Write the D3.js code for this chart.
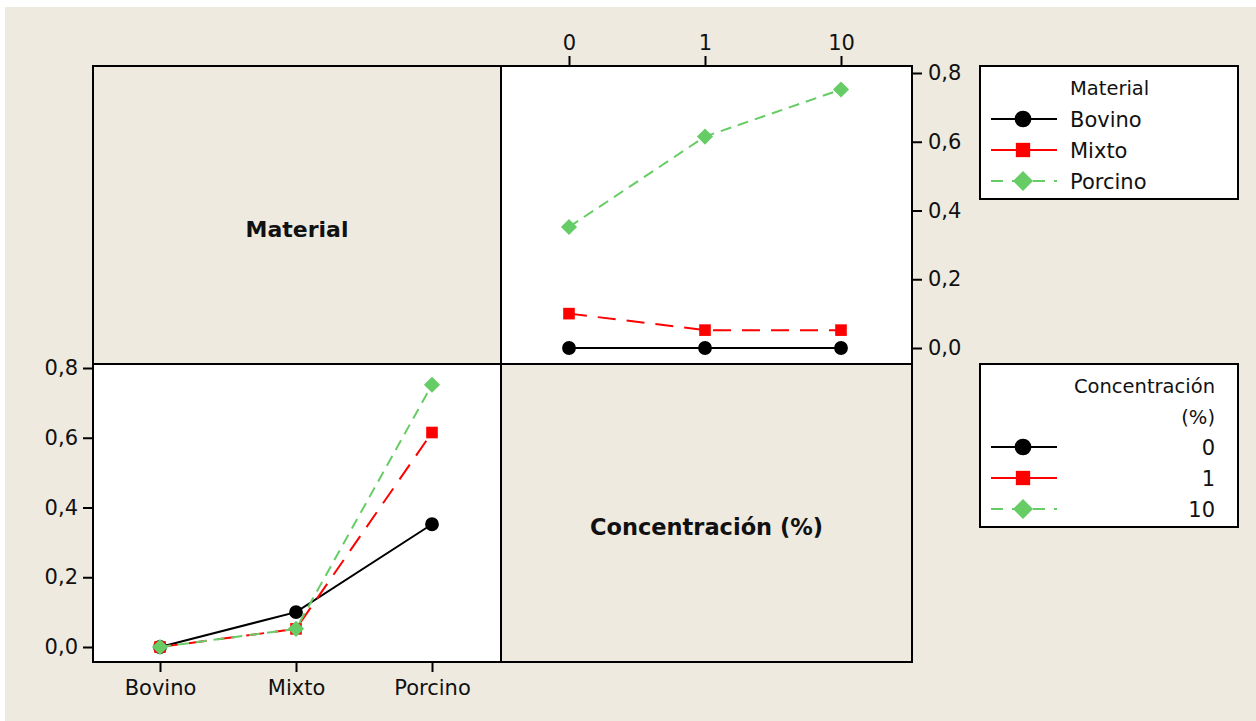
<!DOCTYPE html>
<html>
<head>
<meta charset="utf-8">
<script src="https://cdn.jsdelivr.net/npm/d3@7"></script>
<style>
  body { margin: 0; background: #fff; }
  text { font-family: "DejaVu Sans", sans-serif; fill: #111; }
</style>
</head>
<body>
<svg id="chart" width="1256" height="721"></svg>
<script>
// data
var materials = ["Bovino", "Mixto", "Porcino"];
var concentrations = ["0", "1", "10"];
// mean response, rows = material, cols = concentration
var bovinoVals = [0.0, 0.0, 0.0];
var mixtoVals = [0.10, 0.052, 0.052];
var porcinoVals = [0.352, 0.615, 0.752];
var yTicks = [0, 0.2, 0.4, 0.6, 0.8];

var table = [bovinoVals, mixtoVals, porcinoVals];

var styles = [
  { color: "#000000", dash: null, legDash: null, shape: d3.symbolCircle, size: 150, rot: 0 },
  { color: "#ff0000", dash: "18,11", legDash: null, shape: d3.symbolSquare, size: 135, rot: 0 },
  { color: "#66cc66", dash: "11,7", legDash: "12,9", shape: d3.symbolSquare, size: 130, rot: 45 }
];

var svg = d3.select("#chart");
var bg = "#eeeae0";
svg.append("rect").attr("x", 5).attr("y", 7).attr("width", 1251).attr("height", 714).attr("fill", bg);

var L = 93, M = 501, R = 912, T = 66, MY = 364, B = 662;

// cells
svg.append("rect").attr("x", M).attr("y", T).attr("width", R - M).attr("height", MY - T).attr("fill", "#fff");
svg.append("rect").attr("x", L).attr("y", MY).attr("width", M - L).attr("height", B - MY).attr("fill", "#fff");

var fmt = function(d) { return d3.format(".1f")(d).replace(".", ","); };

// top-right: x = concentration, series = material
var x1 = d3.scalePoint().domain(concentrations).range([569, 841]);
var y1 = d3.scaleLinear().domain([0, 0.8]).range([348, 73]);

var topAx = svg.append("g").attr("transform", "translate(0," + T + ")")
  .call(d3.axisTop(x1).tickSize(10).tickPadding(6));
var rightAx = svg.append("g").attr("transform", "translate(" + R + ",0)")
  .call(d3.axisRight(y1).tickValues(yTicks).tickFormat(fmt).tickSize(10).tickPadding(6));

// bottom-left: x = material, series = concentration
var x2 = d3.scalePoint().domain(materials).range([160, 432]);
var y2 = d3.scaleLinear().domain([0, 0.8]).range([647, 368]);

var botAx = svg.append("g").attr("transform", "translate(0," + B + ")")
  .call(d3.axisBottom(x2).tickSize(10).tickPadding(8));
var leftAx = svg.append("g").attr("transform", "translate(" + L + ",0)")
  .call(d3.axisLeft(y2).tickValues(yTicks).tickFormat(fmt).tickSize(10).tickPadding(5));

[topAx, rightAx, botAx, leftAx].forEach(function(a) {
  a.select(".domain").remove();
  a.selectAll(".tick line").attr("stroke", "#000").attr("stroke-width", 2);
  a.selectAll(".tick text").style("font-size", "21px").attr("fill", "#111");
});

function drawSeries(xs, ys, points, st) {
  var line = d3.line().x(function(d) { return xs(d[0]); }).y(function(d) { return ys(d[1]); });
  svg.append("path").datum(points)
    .attr("d", line).attr("fill", "none")
    .attr("stroke", st.color).attr("stroke-width", 2)
    .attr("stroke-dasharray", st.dash);
  svg.selectAll(null).data(points).enter().append("path")
    .attr("d", d3.symbol().type(st.shape).size(st.size))
    .attr("transform", function(d) { return "translate(" + xs(d[0]) + "," + ys(d[1]) + ") rotate(" + st.rot + ")"; })
    .attr("fill", st.color);
}

materials.forEach(function(m, i) {
  var pts = concentrations.map(function(c, j) { return [c, table[i][j]]; });
  drawSeries(x1, y1, pts, styles[i]);
});
concentrations.forEach(function(c, j) {
  var pts = materials.map(function(m, i) { return [m, table[i][j]]; });
  drawSeries(x2, y2, pts, styles[j]);
});

// grid frame
var frame = svg.append("g").attr("stroke", "#000").attr("stroke-width", 2).attr("fill", "none");
frame.append("rect").attr("x", L).attr("y", T).attr("width", R - L).attr("height", B - T);
frame.append("line").attr("x1", M).attr("x2", M).attr("y1", T).attr("y2", B);
frame.append("line").attr("x1", L).attr("x2", R).attr("y1", MY).attr("y2", MY);

svg.append("text").attr("x", (L + M) / 2).attr("y", 237).attr("text-anchor", "middle")
  .style("font-size", "22px").style("font-weight", "bold").text("Material");
svg.append("text").attr("x", (M + R) / 2).attr("y", 535).attr("text-anchor", "middle")
  .style("font-size", "22.5px").style("font-weight", "bold").text("Concentración (%)");

// legends
function legendSym(g, y, st) {
  g.append("line").attr("x1", 991).attr("x2", 1057).attr("y1", y).attr("y2", y)
    .attr("stroke", st.color).attr("stroke-width", 2).attr("stroke-dasharray", st.legDash);
  g.append("path").attr("d", d3.symbol().type(st.shape).size(st.size + 70))
    .attr("transform", "translate(1023," + y + ") rotate(" + st.rot + ")").attr("fill", st.color);
}

var lg1 = svg.append("g");
lg1.append("rect").attr("x", 980).attr("y", 66).attr("width", 258).attr("height", 133)
  .attr("fill", "#fff").attr("stroke", "#000").attr("stroke-width", 2);
lg1.append("text").attr("x", 1070).attr("y", 95).style("font-size", "19.5px").text("Material");
materials.forEach(function(m, i) {
  var y = 119 + i * 31;
  legendSym(lg1, y, styles[i]);
  lg1.append("text").attr("x", 1070).attr("y", y + 8).style("font-size", "21px").text(m);
});

var lg2 = svg.append("g");
lg2.append("rect").attr("x", 980).attr("y", 364).attr("width", 258).attr("height", 163)
  .attr("fill", "#fff").attr("stroke", "#000").attr("stroke-width", 2);
lg2.append("text").attr("x", 1215).attr("y", 393).attr("text-anchor", "end").style("font-size", "19.5px").text("Concentración");
lg2.append("text").attr("x", 1215).attr("y", 424).attr("text-anchor", "end").style("font-size", "19.5px").text("(%)");
concentrations.forEach(function(c, j) {
  var y = 447 + j * 31;
  legendSym(lg2, y, styles[j]);
  lg2.append("text").attr("x", 1215).attr("y", y + 8).attr("text-anchor", "end").style("font-size", "21px").text(c);
});
</script>
</body>
</html>
